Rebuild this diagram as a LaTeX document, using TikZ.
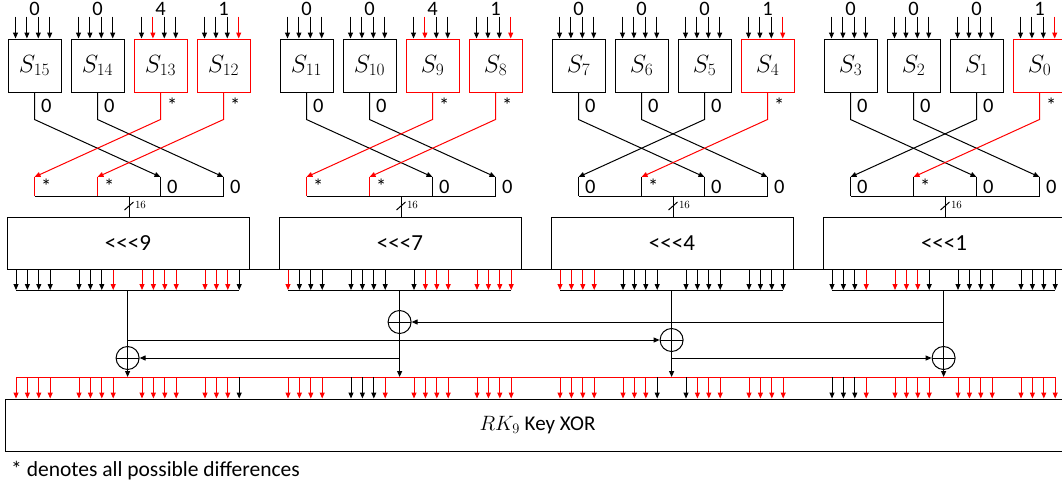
\documentclass[tikz,border=0pt]{standalone}
\usepackage{fontspec}
\setmainfont{Carlito}
\usetikzlibrary{arrows.meta,calc}

\colorlet{zd}{black}
\colorlet{ad}{red}
\newcommand\rotl[1]{<\kern0pt<\kern0pt<#1}

\tikzset{
  sbox/.style={draw, line width=1pt, minimum width=53pt, minimum height=53pt, inner sep=0pt, font=\fontsize{23}{25}\selectfont},
  rotbox/.style={draw, line width=1pt, minimum width=242pt, minimum height=52pt, inner sep=0pt, font=\fontsize{23}{25}\selectfont},
  keybox/.style={draw, line width=1pt, minimum width=1065pt, minimum height=52pt, inner sep=0pt, font=\fontsize{21}{24}\selectfont},
  bit/.style={-{Triangle[length=6pt,width=5pt]}, line width=1pt},
  wire/.style={line width=1pt},
  xorop/.style={draw, circle, line width=1pt, minimum size=23pt, inner sep=0pt,
    path picture={\draw[line width=1pt] (path picture bounding box.north) -- (path picture bounding box.south)
      (path picture bounding box.west) -- (path picture bounding box.east);}},
  diff/.style={font=\fontsize{20.5}{22}\selectfont, inner sep=0pt, anchor=base west},
}

\begin{document}
\begin{tikzpicture}[x=1pt,y=-1pt]
\useasboundingbox (0,0) rectangle (1062,488);
\clip (0,0) rectangle (1062,488);

% S-boxes: index/input diff/colour/red input bit/output diff/colour after permutation
\foreach \sn/\din/\sc/\rb/\dout/\tc in {15/0/zd/9/0/zd, 14/0/zd/9/0/zd, 13/4/ad/1/*/ad, 12/1/ad/3/*/ad,
  11/0/zd/9/0/zd, 10/0/zd/9/0/zd, 9/4/ad/1/*/ad, 8/1/ad/3/*/ad,
  7/0/zd/9/0/zd, 6/0/zd/9/0/zd, 5/0/zd/9/0/zd, 4/1/ad/3/*/zd,
  3/0/zd/9/0/zd, 2/0/zd/9/0/zd, 1/0/zd/9/0/zd, 0/1/ad/3/*/zd}{
  \pgfmathtruncatemacro\g{(15-\sn)/4}
  \pgfmathtruncatemacro\k{mod(15-\sn,4)}
  \pgfmathtruncatemacro\p{mod(\k+2,4)}
  \pgfmathsetmacro\bx{8+272*\g+63*\k}
  \node[sbox, draw=\sc] (s\sn) at (\bx+26.5,65.5) {$S_{\sn}$};
  \node[font=\fontsize{20.5}{22}\selectfont, inner sep=0pt, anchor=base] (in\sn) at (\bx+26.5,15) {\din};
  \foreach \j in {0,...,3}{
    \ifnum\j=\rb \def\ic{ad}\else\def\ic{zd}\fi
    \draw[bit,\ic] ($(s\sn.north west)+(8+11.4*\j,-22)$) -- ($(s\sn.north west)+(8+11.4*\j,0)$);
  }
  \coordinate (t\g\p) at (8+272*\g+63*\p+26.5,177);
  \draw[bit,\sc] (s\sn.south) -- ++(0,27) -- (t\g\p);
  \node[diff] at ($(s\sn.south)+(6.5,20)$) {\dout};
  \draw[wire,\tc] (t\g\p) -- ++(0,19) coordinate (u\g\p);
  \node[diff] at ($(t\g\p)+(6.5,16)$) {\dout};
}

% rotations
\foreach \g/\r in {0/9,1/7,2/4,3/1}{
  \draw[wire] (u\g0) -- (u\g3) coordinate[midway] (m\g);
  \node[rotbox] (rot\g) at (128+272*\g,243) {\rotl{\r}};
  \draw[wire] (m\g) -- (m\g |- rot\g.north);
  \draw[wire] ($(m\g)+(-4.5,14)$) -- ++(9,-8) node[anchor=west, inner sep=1pt, yshift=-3pt, font=\fontsize{11}{12}\selectfont] {$16$};
}
\foreach \a/\b in {0/1,1/2,2/3}
  \draw[wire] (rot\a.south east) -- (rot\b.south west);

\foreach \g/\cl in {0/{zd,zd,zd,zd,zd,zd,zd,ad,ad,ad,ad,ad,ad,ad,ad,zd},
  1/{ad,zd,zd,zd,zd,zd,zd,zd,zd,ad,ad,ad,ad,ad,ad,ad},
  2/{ad,ad,ad,ad,zd,zd,zd,zd,zd,zd,zd,zd,zd,zd,zd,zd},
  3/{zd,zd,zd,ad,ad,ad,ad,zd,zd,zd,zd,zd,zd,zd,zd,zd}}{
  \coordinate (ol\g) at (16+272*\g,290);
  \coordinate (or\g) at (239.2+272*\g,290);
  \foreach \bc [count=\i from 0] in \cl {
    \pgfmathsetmacro\bx{16+272*\g+63*floor(\i/4)+11.4*mod(\i,4)}
    \draw[bit,\bc] (\bx,0 |- rot\g.south) -- (\bx,0 |- ol\g);
  }
  \draw[wire] (ol\g) -- (or\g) coordinate[midway] (o\g);
}

% key addition
\node[keybox] (key) at (537.5,425) {\raisebox{-6pt}{$RK_9$ Key XOR}};
\coordinate (kl) at (16,377);
\coordinate (kr) at (1055.2,377);
\draw[wire,ad] (kl) -- (kr);
\foreach \g/\cl in {0/{ad,ad,ad,ad,ad,ad,ad,ad,ad,ad,ad,ad,ad,ad,ad,zd},
  1/{ad,ad,ad,ad,zd,zd,zd,ad,ad,ad,ad,ad,ad,ad,ad,ad},
  2/{ad,ad,ad,ad,ad,ad,ad,zd,zd,ad,ad,ad,ad,ad,ad,ad},
  3/{zd,zd,zd,ad,ad,ad,ad,ad,ad,ad,ad,ad,ad,ad,ad,ad}}{
  \foreach \bc [count=\i from 0] in \cl {
    \pgfmathsetmacro\bx{16+272*\g+63*floor(\i/4)+11.4*mod(\i,4)}
    \draw[bit,\bc] (\bx,0 |- kl) -- (\bx,0 |- key.north);
  }
}

% mix columns
\node[xorop] (x0) at (o0 |- 0,358) {};
\node[xorop] (x1) at (o1 |- 0,322) {};
\node[xorop] (x2) at (o2 |- 0,340) {};
\node[xorop] (x3) at (o3 |- 0,358) {};
\foreach \g in {0,...,3}{
  \draw[wire] (o\g) -- (x\g);
  \draw[bit] (x\g) -- (x\g |- kl);
}
\draw[bit] (o0 |- x2) -- (x2);
\draw[bit] (x1 |- x0) -- (x0);
\draw[bit] (x2 |- x3) -- (x3);
\draw[bit] (o3 |- x1) -- (x1);

\node[anchor=west, inner sep=0pt, font=\fontsize{21.5}{24}\selectfont] (note) at (11,471) {* denotes all possible differences};
\end{tikzpicture}
\end{document}
